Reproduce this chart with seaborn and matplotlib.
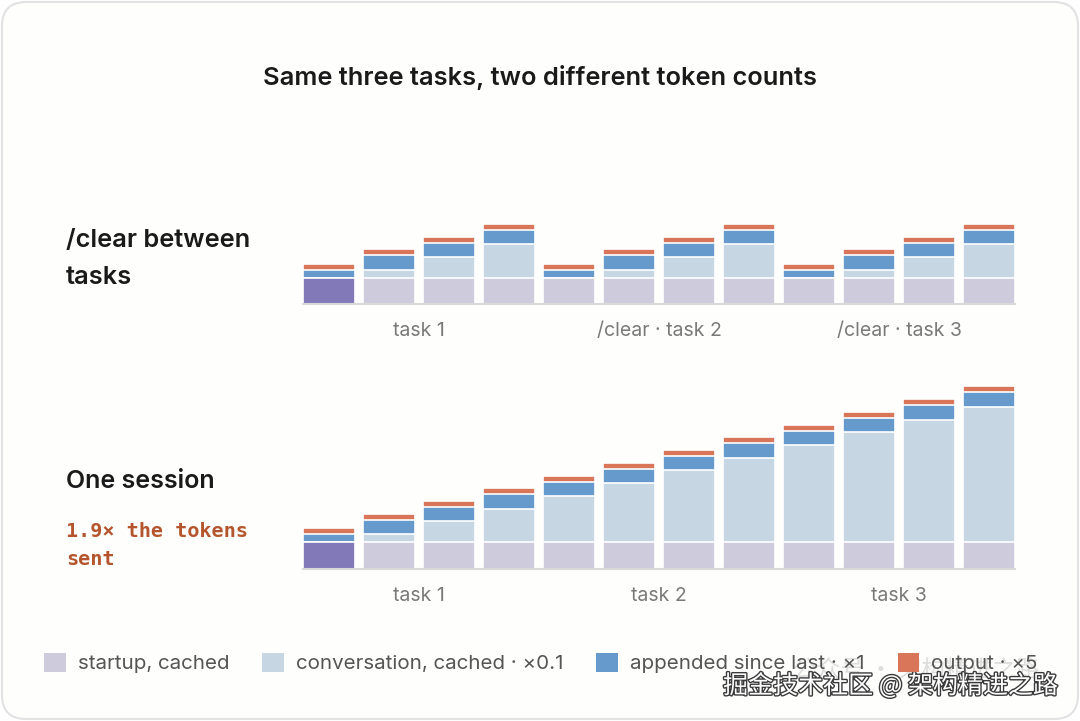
#!/usr/bin/env python3
"""
Stacked token-cost bars: /clear between tasks vs one long session
"""
import numpy as np
import pandas as pd
import matplotlib
matplotlib.use('Agg')
import matplotlib.pyplot as plt
import matplotlib.patheffects as pe
from matplotlib.patches import Patch, FancyBboxPatch
from matplotlib.transforms import IdentityTransform
import seaborn as sns

# --- data (weighted tokens, arbitrary units) ---
steps = list(range(12))
startup = [26.5] * 12
conv_clear = [0, 8, 20.6, 33.4] * 3
app_clear = [7.6, 14.2, 14.2, 14.2] * 3
conv_session = [0, 8, 20.6, 33.4, 46, 59, 71.7, 84.4, 97, 109.7, 122.4, 135.4]
app_session = [7.6] + [14.2] * 11
output = [6.2] * 12

clear_labels = ['task 1', '/clear · task 2', '/clear · task 3']
session_labels = ['task 1', 'task 2', 'task 3']
label_pos = [1.5, 5.5, 9.5]

legend_names = ['startup, cached', 'conversation, cached · ×0.1',
                'appended since last · ×1', 'output · ×5']

C_START = '#cdcbdc'
C_FIRST = '#8279b8'
C_CONV = '#c6d6e3'
C_APP = '#6699cc'
C_OUT = '#d9765a'

sns.set_theme(style='white')
plt.rcParams['font.family'] = ['Inter', 'DejaVu Sans']


def draw_stack(ax, conv, app, labels, top):
    df = pd.DataFrame({'step': steps, 'startup': startup, 'conv': conv,
                       'app': app, 'out': output})
    cum = df[['startup', 'conv', 'app', 'out']].cumsum(axis=1)
    cum['step'] = df['step']
    # tallest layer first, shorter ones painted over it
    for col, color in [('out', C_OUT), ('app', C_APP), ('conv', C_CONV)]:
        sns.barplot(data=cum, x='step', y=col, color=color, saturation=1,
                    width=52 / 60, edgecolor='white', linewidth=1.2, ax=ax)
    sns.barplot(data=cum, x='step', y='startup', hue='step',
                palette=[C_FIRST] + [C_START] * 11, saturation=1, legend=False,
                width=52 / 60, edgecolor='white', linewidth=1.2, ax=ax)
    ax.set_xlim(-0.433, 11.433)
    ax.set_ylim(0, top)
    ax.set_xticks(label_pos)
    ax.set_xticklabels(labels, fontsize=14, color='#7a7a7a')
    ax.tick_params(axis='x', length=0, pad=13)
    ax.set_yticks([])
    ax.set_xlabel('')
    ax.set_ylabel('')
    sns.despine(ax=ax, left=True)
    ax.spines['bottom'].set_color('#d9d9d9')
    ax.spines['bottom'].set_linewidth(1.5)
    ax.patch.set_alpha(0)


fig = plt.figure(figsize=(10.8, 7.21), dpi=100)
fig.patch.set_facecolor('white')
frame = FancyBboxPatch((2, 2), 1076, 717, boxstyle='round,pad=0,rounding_size=24',
                       transform=IdentityTransform(), facecolor='#fefefd',
                       edgecolor='#e2e2e2', linewidth=1.5, zorder=-10)
fig.patches.append(frame)

ax_top = fig.add_axes([303.3 / 1080, 1 - 304 / 721, 712 / 1080, 120 / 721])
ax_bot = fig.add_axes([303.3 / 1080, 1 - 568.5 / 721, 712 / 1080, 200 / 721])
draw_stack(ax_top, conv_clear, app_clear, clear_labels, 120)
draw_stack(ax_bot, conv_session, app_session, session_labels, 200)

fig.text(0.5, 1 - 77 / 721, 'Same three tasks, two different token counts',
         ha='center', va='center', fontsize=18.3, weight='semibold', color='#1a1a1a')

fig.text(66 / 1080, 1 - 229 / 721, '/clear between\ntasks', ha='left', va='top',
         fontsize=18.3, weight='semibold', color='#1a1a1a', linespacing=1.8)
fig.text(66 / 1080, 1 - 482 / 721, 'One session', ha='left', va='center',
         fontsize=18, weight='semibold', color='#1a1a1a')
fig.text(66 / 1080, 1 - 522 / 721, '1.9× the tokens\nsent', ha='left', va='top',
         fontsize=14.5, weight='bold', color='#b4552d', linespacing=1.57,
         family=['DejaVu Sans Mono'])

handles = [Patch(facecolor=c, edgecolor='none') for c in [C_START, C_CONV, C_APP, C_OUT]]
fig.legend(handles, legend_names, loc='center left',
           bbox_to_anchor=(44 / 1080, 1 - 663 / 721), ncol=4, frameon=False,
           fontsize=14.8, labelcolor='#555555', handlelength=1.05, handleheight=1.05,
           handletextpad=0.58, columnspacing=1.62, borderaxespad=0, borderpad=0)

# watermark
fig.text(1040 / 1080, 1 - 670 / 721, '公众号 · 架构精进之路', ha='right', va='center',
         fontsize=17, color='#d0d0d0', alpha=0.7,
         family=['Noto Sans CJK SC', 'DejaVu Sans'])
fig.text(1058 / 1080, 1 - 686 / 721, '掘金技术社区 @ 架构精进之路', ha='right', va='center',
         fontsize=18, color='white', family=['Noto Sans CJK SC', 'DejaVu Sans'],
         path_effects=[pe.withStroke(linewidth=2, foreground='#3a3a3a')])

fig.savefig('out.png', dpi=100)
plt.close(fig)
